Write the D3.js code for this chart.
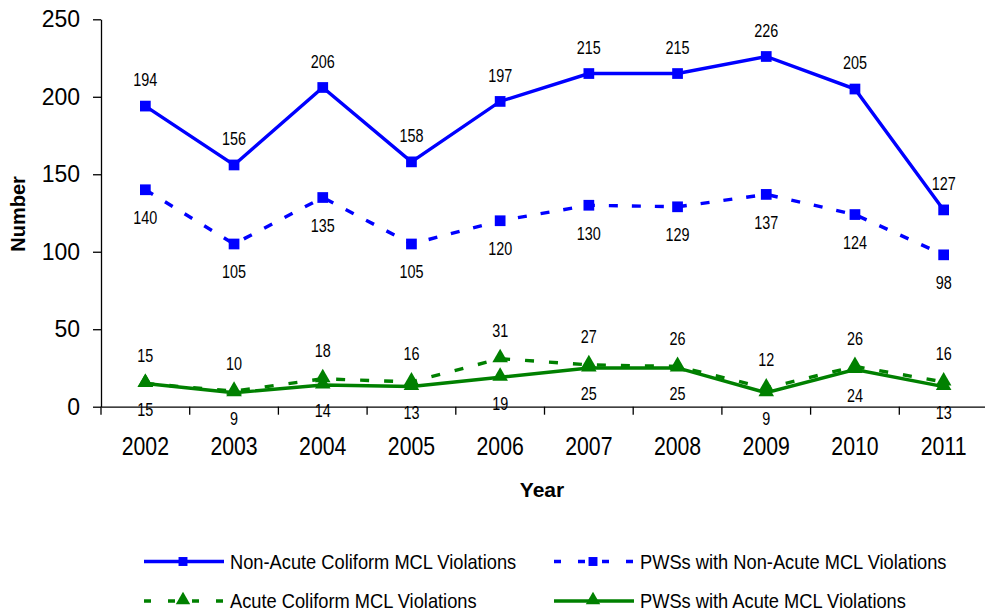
<!DOCTYPE html>
<html>
<head>
<meta charset="utf-8">
<script src="https://cdn.jsdelivr.net/npm/d3@7"></script>
<style>
  html, body { margin: 0; padding: 0; background: #fff; }
  svg { display: block; }
</style>
</head>
<body>
<svg id="chart" width="985" height="613"></svg>
<script>
// ---- data ----
const years = ["2002","2003","2004","2005","2006","2007","2008","2009","2010","2011"];
const nonAcuteViolations = [194,156,206,158,197,215,215,226,205,127];
const pwsNonAcute = [140,105,135,105,120,130,129,137,124,98];
const acuteViolations = [15,10,18,16,31,27,26,12,26,16];
const pwsAcute = [15,9,14,13,19,25,25,9,24,13];
const yTicks = [0,50,100,150,200,250];
const seriesNames = [
  "Non-Acute Coliform MCL Violations",
  "PWSs with Non-Acute MCL Violations",
  "Acute Coliform MCL Violations",
  "PWSs with Acute MCL Violations"
];

// ---- chart ----
const svg = d3.select("#chart");
const sans = "'Liberation Sans',Arial,sans-serif";
const BLUE = "#0000FF", GREEN = "#008000";

// condense text horizontally (reference uses a narrow face)
function condense(sel, ratio) {
  sel.each(function () {
    const w = this.getComputedTextLength();
    d3.select(this).attr("textLength", w * ratio).attr("lengthAdjust", "spacingAndGlyphs");
  });
}

const x = d3.scaleBand().domain(years).range([101, 988]);
const y = d3.scaleLinear().domain([0, 250]).range([406.7, 19.3]);
const cx = d => x(d) + x.bandwidth() / 2;

// axes
const yAxis = svg.append("g").attr("transform", "translate(101,0)")
  .call(d3.axisLeft(y).tickValues(yTicks).tickSize(8).tickSizeOuter(0).tickPadding(13));
yAxis.select(".domain").attr("stroke", "#000").attr("stroke-width", 1.3);
yAxis.selectAll(".tick line").attr("stroke", "#000").attr("stroke-width", 1.3);
yAxis.selectAll(".tick text").attr("font-family", sans).attr("font-size", 23).attr("fill", "#000");

const xAxis = svg.append("g").attr("transform", "translate(0,406.7)")
  .call(d3.axisBottom(x).tickSize(0).tickPadding(31));
xAxis.select(".domain").attr("stroke", "#000").attr("stroke-width", 1.3);
xAxis.selectAll(".tick text").attr("font-family", sans).attr("font-size", 25).attr("fill", "#000")
  .call(condense, 0.85);
// category boundary ticks
const bounds = years.map(d => x(d));
xAxis.selectAll(".bnd").data(bounds).enter().append("line")
  .attr("x1", d => d).attr("x2", d => d).attr("y1", 0).attr("y2", 8)
  .attr("stroke", "#000").attr("stroke-width", 1.3);

// axis titles
svg.append("text").attr("transform", "translate(25,214) rotate(-90)")
  .attr("text-anchor", "middle").attr("font-family", sans).attr("font-weight", "bold")
  .attr("font-size", 20).text("Number");
svg.append("text").attr("x", 542).attr("y", 497)
  .attr("text-anchor", "middle").attr("font-family", sans).attr("font-weight", "bold")
  .attr("font-size", 21).text("Year");

// series definitions
const series = [
  { name: seriesNames[0], values: nonAcuteViolations, color: BLUE, dash: null, marker: "square", labelDy: -26 },
  { name: seriesNames[1], values: pwsNonAcute, color: BLUE, dash: "9,14", marker: "square", labelDy: 28 },
  { name: seriesNames[2], values: acuteViolations, color: GREEN, dash: "9,15", marker: "triangle", labelDy: -28 },
  { name: seriesNames[3], values: pwsAcute, color: GREEN, dash: null, marker: "triangle", labelDy: 26 }
];

const line = d3.line().x((v, i) => cx(years[i])).y(v => y(v));
const sq = d3.symbol().type(d3.symbolSquare).size(115);
const tri = d3.symbol().type(d3.symbolTriangle).size(105);
const sqLeg = d3.symbol().type(d3.symbolSquare).size(80);
const triLeg = d3.symbol().type(d3.symbolTriangle).size(90);

series.forEach(s => {
  const g = svg.append("g");
  g.append("path").datum(s.values).attr("d", line)
    .attr("fill", "none").attr("stroke", s.color).attr("stroke-width", 3.4)
    .attr("stroke-dasharray", s.dash);
  g.selectAll("path.m").data(s.values).enter().append("path").attr("class", "m")
    .attr("d", s.marker === "square" ? sq : tri)
    .attr("transform", (v, i) => `translate(${cx(years[i])},${y(v) - (s.marker === "triangle" ? 1 : 0)})`)
    .attr("fill", s.color);
});
series.forEach(s => {
  svg.append("g").selectAll("text").data(s.values).enter().append("text")
    .attr("x", (v, i) => cx(years[i]))
    .attr("y", v => y(v) + s.labelDy)
    .attr("dy", "0.35em")
    .attr("text-anchor", "middle").attr("font-family", sans).attr("font-size", 18)
    .attr("fill", "#000").text(v => v)
    .call(condense, 0.8);
});

// legend
const legendPos = [[144, 561.5], [554, 561.5], [144, 601], [554, 601]];
series.forEach((s, k) => {
  const [lx, ly] = legendPos[k];
  const g = svg.append("g").attr("transform", `translate(${lx},${ly})`);
  g.append("line").attr("x1", 0).attr("x2", 80).attr("y1", 0).attr("y2", 0)
    .attr("stroke", s.color).attr("stroke-width", 3.4).attr("stroke-dasharray", s.dash ? "7,17" : null);
  g.append("path").attr("d", s.marker === "square" ? sqLeg : triLeg)
    .attr("transform", `translate(39,${s.marker === "triangle" ? -1 : 0})`).attr("fill", s.color);
  g.append("g").attr("transform", "translate(86,0) scale(0.87,1)")
    .append("text").attr("x", 0).attr("y", 0).attr("dy", "0.35em")
    .attr("font-family", sans).attr("font-size", 21).attr("fill", "#000").text(s.name);
});
</script>
</body>
</html>
